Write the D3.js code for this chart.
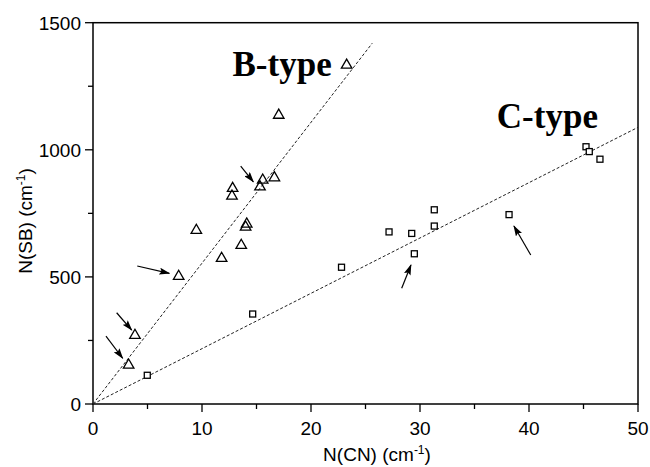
<!DOCTYPE html>
<html lang="en">
<head>
  <meta charset="UTF-8">
  <title>N(SB) vs N(CN)</title>
  <script src="https://d3js.org/d3.v7.min.js"></script>
  <style>
    body, html { margin: 0; padding: 0; background: #fff; }
    svg { display: block; }
    .tick-label { font-family: 'Liberation Sans', Arial, Helvetica, sans-serif; font-size: 19px; fill: #000; }
    .axis-title { font-family: 'Liberation Sans', Arial, Helvetica, sans-serif; font-size: 19px; fill: #000; }
    .type-label { font-family: 'Liberation Serif', 'Times New Roman', serif; font-weight: bold; font-size: 35px; fill: #000; }
  </style>
</head>
<body>
<svg width="650" height="467"></svg>
<script>
  // B-type points (triangles): [N(CN), N(SB)]
  const bType = [
    [3.27, 157], [3.85, 274], [7.86, 506], [9.48, 687], [11.8, 577],
    [12.75, 822], [12.81, 852], [13.6, 628], [14.0, 700], [14.1, 712],
    [15.32, 858], [15.57, 885], [16.64, 894], [17.04, 1140], [23.27, 1337]
  ];
  // C-type points (squares)
  const cType = [
    [4.98, 113], [14.65, 354], [22.8, 538], [27.16, 677], [29.24, 671],
    [29.48, 591], [31.31, 700], [31.31, 764], [38.17, 745],
    [45.23, 1012], [45.53, 993], [46.51, 963]
  ];
  // fitted lines through origin: slope and end x
  const fits = [
    {name: "B-type", slope: 55.4, xEnd: 25.62},
    {name: "C-type", slope: 21.77, xEnd: 50}
  ];
  // arrows: [x1, y1, x2(tip), y2(tip)] in data units
  const arrows = [
    [13.55, 936, 14.71, 874],
    [4.06, 543, 7.0, 514],
    [2.17, 359, 3.55, 291],
    [1.19, 267, 2.72, 180],
    [28.32, 455, 29.17, 547],
    [40.16, 586, 38.62, 700]
  ];
  const xMajor = [0, 10, 20, 30, 40, 50];
  const xMinor = [5, 15, 25, 35, 45];
  const yMajor = [0, 500, 1000, 1500];
  const yMinor = [250, 750, 1250];
  const typeLabels = [
    {text: "B-type", x: 12.8, y: 1290},
    {text: "C-type", x: 37.05, y: 1086}
  ];

  const plot = {left: 93, right: 638, top: 22.7, bottom: 404};
  const svg = d3.select("svg");
  const x = d3.scaleLinear().domain([0, 50]).range([plot.left, plot.right]);
  const y = d3.scaleLinear().domain([0, 1500]).range([plot.bottom, plot.top]);

  // frame
  svg.append("rect")
     .attr("x", plot.left).attr("y", plot.top)
     .attr("width", plot.right - plot.left).attr("height", plot.bottom - plot.top)
     .attr("fill", "none").attr("stroke", "#000").attr("stroke-width", 1.5);

  // x ticks
  svg.selectAll(".xmaj").data(xMajor).enter().append("line")
     .attr("x1", d => x(d)).attr("x2", d => x(d))
     .attr("y1", plot.bottom).attr("y2", plot.bottom + 8)
     .attr("stroke", "#000").attr("stroke-width", 1.3);
  svg.selectAll(".xmin").data(xMinor).enter().append("line")
     .attr("x1", d => x(d)).attr("x2", d => x(d))
     .attr("y1", plot.bottom).attr("y2", plot.bottom + 5)
     .attr("stroke", "#000").attr("stroke-width", 1.3);
  svg.selectAll(".xlab").data(xMajor).enter().append("text")
     .attr("class", "tick-label")
     .attr("x", d => x(d)).attr("y", plot.bottom + 31)
     .attr("text-anchor", "middle")
     .text(d => d);

  // y ticks
  svg.selectAll(".ymaj").data(yMajor).enter().append("line")
     .attr("x1", plot.left - 8).attr("x2", plot.left)
     .attr("y1", d => y(d)).attr("y2", d => y(d))
     .attr("stroke", "#000").attr("stroke-width", 1.3);
  svg.selectAll(".ymin").data(yMinor).enter().append("line")
     .attr("x1", plot.left - 5).attr("x2", plot.left)
     .attr("y1", d => y(d)).attr("y2", d => y(d))
     .attr("stroke", "#000").attr("stroke-width", 1.3);
  svg.selectAll(".ylab").data(yMajor).enter().append("text")
     .attr("class", "tick-label")
     .attr("x", plot.left - 12).attr("y", d => y(d) + 7)
     .attr("text-anchor", "end")
     .text(d => d);

  // axis titles
  const xt = svg.append("text").attr("class", "axis-title")
     .attr("x", 377).attr("y", 461).attr("text-anchor", "middle");
  xt.append("tspan").text("N(CN) (cm");
  xt.append("tspan").attr("font-size", "12px").attr("dy", -7).text("-1");
  xt.append("tspan").attr("dy", 7).text(")");

  const yt = svg.append("text").attr("class", "axis-title")
     .attr("transform", "translate(32,221) rotate(-90)").attr("text-anchor", "middle");
  yt.append("tspan").text("N(SB) (cm");
  yt.append("tspan").attr("font-size", "12px").attr("dy", -7).text("-1");
  yt.append("tspan").attr("dy", 7).text(")");

  // fit lines
  svg.selectAll(".fit").data(fits).enter().append("line")
     .attr("x1", x(0)).attr("y1", y(0))
     .attr("x2", d => x(d.xEnd)).attr("y2", d => y(d.slope * d.xEnd))
     .attr("stroke", "#222").attr("stroke-width", 1)
     .attr("stroke-dasharray", "3,2");

  // arrow marker
  svg.append("defs").append("marker")
     .attr("id", "head").attr("markerUnits", "userSpaceOnUse")
     .attr("markerWidth", 11).attr("markerHeight", 7)
     .attr("refX", 10).attr("refY", 3.5).attr("orient", "auto")
     .append("path").attr("d", "M0,0 L11,3.5 L0,7 L2,3.5 z").attr("fill", "#000");

  svg.selectAll(".arrow").data(arrows).enter().append("line")
     .attr("x1", d => x(d[0])).attr("y1", d => y(d[1]))
     .attr("x2", d => x(d[2])).attr("y2", d => y(d[3]))
     .attr("stroke", "#000").attr("stroke-width", 1.2)
     .attr("marker-end", "url(#head)");

  // triangles
  const tri = d3.symbol().type(d3.symbolTriangle).size(48);
  svg.selectAll(".tri").data(bType).enter().append("path")
     .attr("d", tri)
     .attr("transform", d => `translate(${x(d[0])},${y(d[1]) + 1})`)
     .attr("fill", "none").attr("stroke", "#000").attr("stroke-width", 1.3);

  // squares
  svg.selectAll(".sq").data(cType).enter().append("rect")
     .attr("x", d => x(d[0]) - 3).attr("y", d => y(d[1]) - 3)
     .attr("width", 6).attr("height", 6)
     .attr("fill", "#fff").attr("stroke", "#000").attr("stroke-width", 1.3);

  // type labels
  svg.selectAll(".type").data(typeLabels).enter().append("text")
     .attr("class", "type-label")
     .attr("x", d => x(d.x)).attr("y", d => y(d.y))
     .text(d => d.text);
</script>
</body>
</html>
